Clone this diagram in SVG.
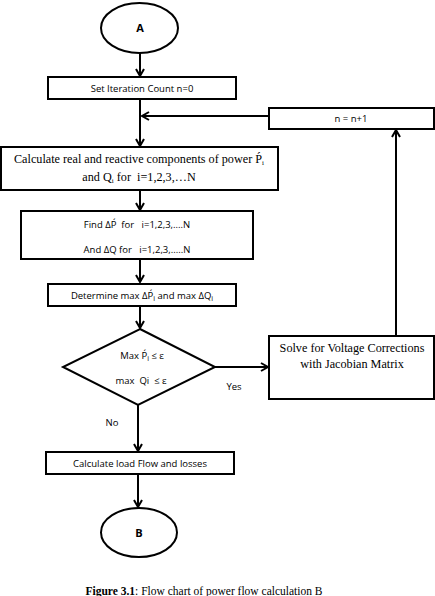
<svg xmlns="http://www.w3.org/2000/svg" width="435" height="596" viewBox="0 0 435 596">
<style>
.b{fill:#fff;stroke:#000;stroke-width:2}
.c{fill:none;stroke:#000;stroke-width:2}
.s{font-family:"Open Sans","Liberation Sans",sans-serif;font-size:9.5px;fill:#000;text-anchor:middle;white-space:pre}
.t{font-family:"Liberation Serif","Times New Roman",serif;font-size:12.2px;fill:#000;text-anchor:middle;white-space:pre}
.sub{font-size:7px}
</style>
<defs>
<marker id="ah" markerWidth="10" markerHeight="10" refX="8" refY="5" orient="auto" markerUnits="userSpaceOnUse">
<path d="M1,1 L8,5 L1,9" fill="none" stroke="#000" stroke-width="2"/>
</marker>
</defs>
<rect width="435" height="596" fill="#fff"/>
<g id="connectors">
<path class="c" d="M140,53 V76" marker-end="url(#ah)"/>
<path class="c" d="M140,99 V146" marker-end="url(#ah)"/>
<path class="c" d="M269,116 H142" marker-end="url(#ah)"/>
<path class="c" d="M396,336 V130" marker-end="url(#ah)"/>
<path class="c" d="M140,190 V210" marker-end="url(#ah)"/>
<path class="c" d="M140,259 V282" marker-end="url(#ah)"/>
<path class="c" d="M140,306 V328" marker-end="url(#ah)"/>
<path class="c" d="M215,367 H268" marker-end="url(#ah)"/>
<path class="c" d="M138,405 V451" marker-end="url(#ah)"/>
<path class="c" d="M138,474 V507" marker-end="url(#ah)"/>
<text class="s" x="234" y="390">Yes</text>
<text class="s" x="112" y="426">No</text>
</g>
<g id="startA">
<ellipse class="b" cx="139.5" cy="28" rx="38.5" ry="25"/>
<text class="s" x="140" y="32" style="font-weight:bold;font-size:11px">A</text>
</g>
<g id="setIter">
<rect class="b" x="48" y="77" width="188" height="22"/>
<text class="s" x="142" y="91.5">Set Iteration Count n=0</text>
</g>
<g id="incr">
<rect class="b" x="269" y="108" width="165" height="21"/>
<text class="s" x="351" y="122">n = n+1</text>
</g>
<g id="calc">
<rect class="b" x="1" y="147" width="277" height="43"/>
<text class="t" x="139" y="163">Calculate real and reactive components of power Ṕ<tspan class="sub" dy="2">i</tspan></text>
<text class="t" x="139" y="181">and Q<tspan class="sub" dy="2">i</tspan><tspan dy="-2"> for  i=1,2,3,…N</tspan></text>
</g>
<g id="findDelta">
<rect class="b" x="21" y="211" width="232" height="48"/>
<text class="s" x="137" y="228">Find ΔṔ  for   i=1,2,3,....N</text>
<text class="s" x="137" y="253">And ΔQ for   i=1,2,3,.....N</text>
</g>
<g id="determine">
<rect class="b" x="48" y="284" width="188" height="22"/>
<text class="s" x="142" y="299">Determine max ΔṔ<tspan class="sub" dy="1.5">i</tspan><tspan dy="-1.5"> and max ΔQ</tspan><tspan class="sub" dy="1.5">i</tspan></text>
</g>
<g id="decision">
<polygon class="b" points="140,329 215,367 138,405 63,367"/>
<text class="s" x="142" y="359">Max Ṕ<tspan class="sub" dy="1.5">i</tspan><tspan dy="-1.5"> ≤ ε</tspan></text>
<text class="s" x="141" y="384">max  Qi  ≤ ε</text>
</g>
<g id="solve">
<rect class="b" x="269" y="336" width="165" height="63"/>
<text class="t" x="352" y="352">Solve for Voltage Corrections</text>
<text class="t" x="352" y="368">with Jacobian Matrix</text>
</g>
<g id="loadFlow">
<rect class="b" x="46" y="452" width="188" height="22"/>
<text class="s" x="140" y="467">Calculate load Flow and losses</text>
</g>
<g id="endB">
<ellipse class="b" cx="139" cy="532.5" rx="38" ry="24.5"/>
<text class="s" x="139" y="536.5" style="font-weight:bold;font-size:11px">B</text>
</g>
<text class="t" x="204" y="595" style="font-size:11.5px"><tspan font-weight="bold">Figure 3.1</tspan>: Flow chart of power flow calculation B</text>
</svg>
